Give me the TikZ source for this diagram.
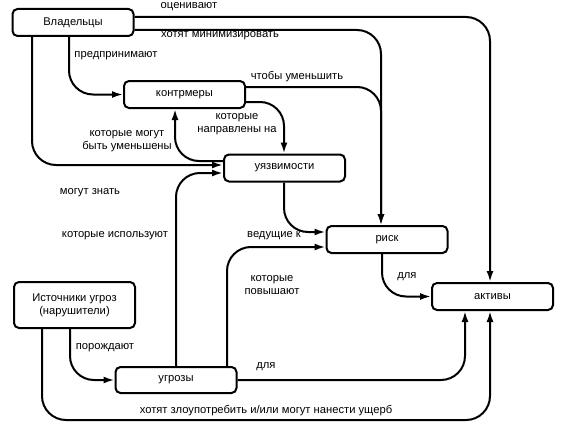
\documentclass[tikz,border=0pt]{standalone}
\usepackage{fontspec}
\setmainfont{Liberation Sans}
\usetikzlibrary{arrows.meta}
\begin{document}
\begin{tikzpicture}[x=1pt,y=-1pt,
  box/.style={draw,line width=2pt,rounded corners=5pt,minimum width=121pt,minimum height=27pt,inner sep=0pt,font=\fontsize{11.2}{13}\selectfont,align=center},
  conn/.style={line width=2pt,rounded corners=24pt},
  arr/.style={conn,-{Latex[length=11pt,width=7pt]}},
  lbl/.style={font=\fontsize{11.2}{13}\selectfont,align=center,inner sep=0pt}]
\useasboundingbox (0,0) rectangle (562,428);
\node[box] (own) at (73,22.5) {Владельцы};
\node[box] (cm) at (184.5,94.5) {контрмеры};
\node[box] (vul) at (284.5,168) {уязвимости};
\node[box] (risk) at (387,239.5) {риск};
\node[box] (assets) at (492.5,296.5) {активы};
\node[box,minimum height=46pt] (src) at (74.5,305) {Источники угроз\\(нарушители)};
\node[box,minimum height=26pt] (thr) at (176,380) {угрозы};
\coordinate (bot) at (490,420);

\draw[arr] ([yshift=5.5pt]own.east) -| ([xshift=-2.5pt]assets.north);
\draw[arr] ([yshift=-7.5pt]own.east) -| ([xshift=-6pt]risk.north);
\draw[arr] ([yshift=7.5pt]cm.east) -| ([xshift=-6pt]risk.north);
\draw[arr] ([xshift=-4pt]own.south) |- (cm.west);
\draw[arr] ([xshift=-41pt]own.south) |- ([yshift=3pt]vul.west);
\draw[arr] ([yshift=7pt]vul.west) -| ([xshift=-9.5pt]cm.south);
\draw[arr] ([yshift=-7.5pt]cm.east) -| ([xshift=-0.5pt]vul.north);
\draw[arr] ([xshift=-0.5pt]vul.south) |- ([yshift=7.5pt]risk.west);
\draw[arr] (thr.north) |- ([yshift=-5pt]vul.west);
\draw[arr] ([xshift=51pt]thr.north) |- ([yshift=-7.5pt]risk.west);
\draw[arr] ([xshift=-5pt]risk.south) |- (assets.west);
\draw[arr] (thr.east) -| ([xshift=-27.5pt]assets.south);
\draw[arr] ([xshift=-4.5pt]src.south) |- (thr.west);
\draw[arr] ([xshift=-32.5pt]src.south) |- (bot) -- ([xshift=-2.5pt]assets.south);

\node[lbl] (l1) at (189,7) {оценивают};
\node[lbl] (l2) at (220,36) {хотят минимизировать};
\node[lbl] (l3) at (116,56) {предпринимают};
\node[lbl] (l4) at (297,77) {чтобы уменьшить};
\node[lbl] (l5) at (237,124.5) {которые\\направлены на};
\node[lbl] (l6) at (127,141.5) {которые могут\\быть уменьшены};
\node[lbl] (l7) at (90,193) {могут знать};
\node[lbl] (l8) at (115,236) {которые используют};
\node[lbl] (l9) at (274,236) {ведущие к};
\node[lbl] (l10) at (272,285.5) {которые\\повышают};
\node[lbl] (l11) at (407,277) {для};
\node[lbl] (l12) at (105,348) {порождают};
\node[lbl] (l13) at (266,367) {для};
\node[lbl] (l14) at (266,411) {хотят злоупотребить и/или могут нанести ущерб};
\end{tikzpicture}
\end{document}
